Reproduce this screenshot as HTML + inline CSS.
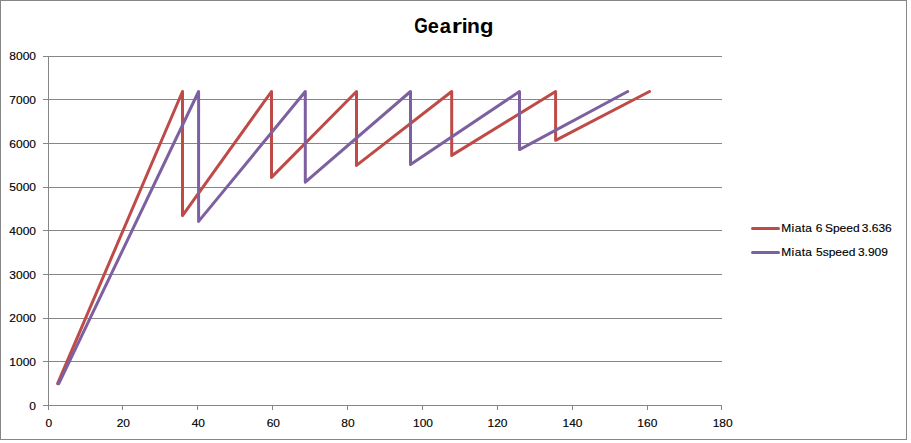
<!DOCTYPE html>
<html>
<head>
<meta charset="utf-8">
<title>Gearing</title>
<style>
html,body{margin:0;padding:0;background:#ffffff;}
body{width:911px;height:443px;overflow:hidden;font-family:"Liberation Sans",sans-serif;}
svg{display:block;}
text{font-family:"Liberation Sans",sans-serif;fill:#000;}
.ax{font-size:12px;stroke:#000;stroke-width:0.15px;}
</style>
</head>
<body>
<svg width="911" height="443" viewBox="0 0 911 443">
  <rect x="0" y="0" width="911" height="443" fill="#ffffff"/>
  <!-- chart border -->
  <rect x="0.5" y="0.5" width="906" height="439" fill="#ffffff" stroke="#868686" stroke-width="1" shape-rendering="crispEdges"/>
  <!-- gridlines + y ticks -->
  <g stroke="#868686" stroke-width="1" shape-rendering="crispEdges">
    <line x1="43" y1="56.5" x2="722" y2="56.5"/>
    <line x1="43" y1="99.5" x2="722" y2="99.5"/>
    <line x1="43" y1="143.5" x2="722" y2="143.5"/>
    <line x1="43" y1="187.5" x2="722" y2="187.5"/>
    <line x1="43" y1="230.5" x2="722" y2="230.5"/>
    <line x1="43" y1="274.5" x2="722" y2="274.5"/>
    <line x1="43" y1="318.5" x2="722" y2="318.5"/>
    <line x1="43" y1="361.5" x2="722" y2="361.5"/>
    <line x1="43" y1="405.5" x2="722" y2="405.5"/>
    <!-- y axis -->
    <line x1="48.5" y1="56" x2="48.5" y2="410"/>
    <!-- x ticks -->
    <line x1="122.5" y1="405" x2="122.5" y2="410"/>
    <line x1="197.5" y1="405" x2="197.5" y2="410"/>
    <line x1="272.5" y1="405" x2="272.5" y2="410"/>
    <line x1="347.5" y1="405" x2="347.5" y2="410"/>
    <line x1="422.5" y1="405" x2="422.5" y2="410"/>
    <line x1="497.5" y1="405" x2="497.5" y2="410"/>
    <line x1="572.5" y1="405" x2="572.5" y2="410"/>
    <line x1="647.5" y1="405" x2="647.5" y2="410"/>
    <line x1="721.5" y1="405" x2="721.5" y2="410"/>
  </g>
  <!-- series -->
  <g fill="none" stroke-width="3" stroke-linecap="round" stroke-linejoin="round">
    <polyline stroke="#BE4B48" points="57.6,383.6 182.5,91.5 182.5,215.6 271.5,91.5 271.5,177.4 356.5,91.5 356.5,165.4 451.7,91.5 451.7,155.4 555.6,91.5 555.6,140.3 649.5,91.5"/>
    <polyline stroke="#7D60A0" points="58.8,383.6 198.6,91.5 198.6,221.4 305.3,91.5 305.3,182.2 410.5,91.5 410.5,164.4 519.5,91.5 519.5,149.6 627.7,91.5"/>
  </g>
  <!-- title -->
  <g font-size="21" font-weight="bold">
    <text transform="translate(414.26,32.6) scale(0.83,1.035)">G</text>
    <text transform="translate(427.7,32.6) scale(0.95,0.945)">e</text>
    <text transform="translate(439.67,32.6) scale(0.96,0.945)">a</text>
    <text transform="translate(451.8,32.6) scale(1.25,0.945)">r</text>
    <text transform="translate(461.69,32.6) scale(1.0,1.0)">i</text>
    <text transform="translate(467.03,32.6) scale(1.0,0.945)">n</text>
    <text transform="translate(480.03,32.6) scale(1.05,0.97)">g</text>
  </g>
  <!-- y labels -->
  <g class="ax" text-anchor="end">
    <text transform="translate(36,60) scale(1,0.93)" x="0" y="0">8000</text>
    <text transform="translate(36,104) scale(1,0.93)" x="0" y="0">7000</text>
    <text transform="translate(36,148) scale(1,0.93)" x="0" y="0">6000</text>
    <text transform="translate(36,191) scale(1,0.93)" x="0" y="0">5000</text>
    <text transform="translate(36,235) scale(1,0.93)" x="0" y="0">4000</text>
    <text transform="translate(36,279) scale(1,0.93)" x="0" y="0">3000</text>
    <text transform="translate(36,322) scale(1,0.93)" x="0" y="0">2000</text>
    <text transform="translate(36,366) scale(1,0.93)" x="0" y="0">1000</text>
    <text transform="translate(36,410) scale(1,0.93)" x="0" y="0">0</text>
  </g>
  <!-- x labels -->
  <g class="ax" text-anchor="middle">
    <text transform="translate(48.8,427) scale(1,0.93)" x="0" y="0">0</text>
    <text transform="translate(123.3,427) scale(1,0.93)" x="0" y="0">20</text>
    <text transform="translate(198.3,427) scale(1,0.93)" x="0" y="0">40</text>
    <text transform="translate(273.3,427) scale(1,0.93)" x="0" y="0">60</text>
    <text transform="translate(347.9,427) scale(1,0.93)" x="0" y="0">80</text>
    <text transform="translate(423,427) scale(1,0.93)" x="0" y="0">100</text>
    <text transform="translate(497.5,427) scale(1,0.93)" x="0" y="0">120</text>
    <text transform="translate(572.5,427) scale(1,0.93)" x="0" y="0">140</text>
    <text transform="translate(647.3,427) scale(1,0.93)" x="0" y="0">160</text>
    <text transform="translate(722.7,427) scale(1,0.93)" x="0" y="0">180</text>
  </g>
  <!-- legend -->
  <g fill="none" stroke-width="3" stroke-linecap="round">
    <line x1="752.5" y1="228.5" x2="778.5" y2="228.5" stroke="#BE4B48"/>
    <line x1="752.5" y1="252.5" x2="778.5" y2="252.5" stroke="#7D60A0"/>
  </g>
  <g class="ax">
    <text transform="translate(0,232) scale(1,0.93)"><tspan x="781.3" letter-spacing="0.35">Miata</tspan><tspan x="815.7">6</tspan><tspan x="824.9">Speed</tspan><tspan x="861.8">3.636</tspan></text>
    <text transform="translate(0,256) scale(1,0.93)"><tspan x="781.3" letter-spacing="0.35">Miata</tspan><tspan x="816.0">5speed</tspan><tspan x="857.9">3.909</tspan></text>
  </g>
</svg>
</body>
</html>
